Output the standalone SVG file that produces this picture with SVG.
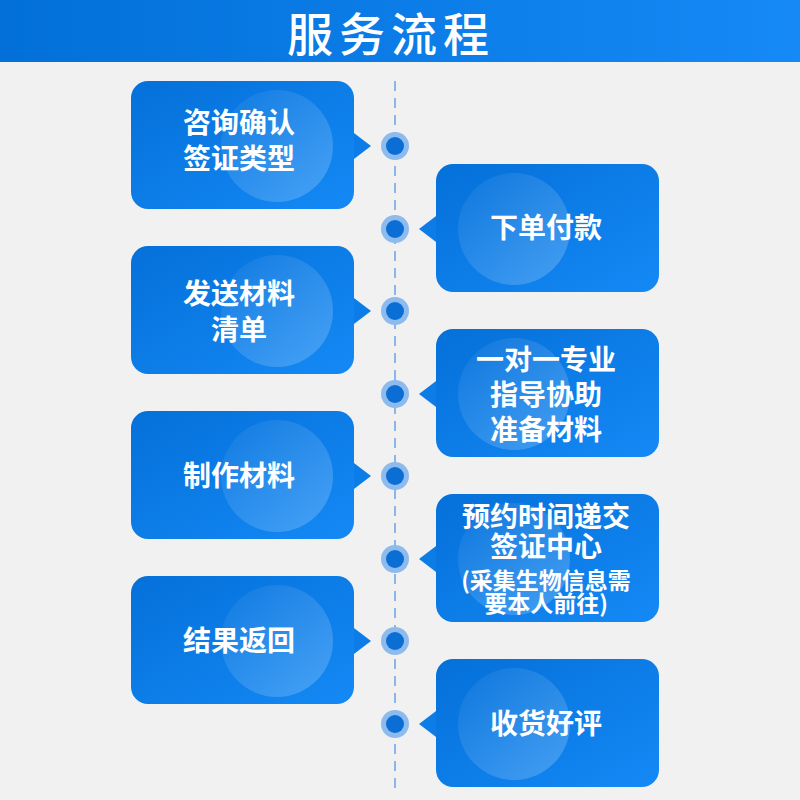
<svg xmlns="http://www.w3.org/2000/svg" width="800" height="800" viewBox="0 0 800 800">
<defs>
<linearGradient id="hdr" x1="0" y1="0" x2="1" y2="0">
<stop offset="0" stop-color="#0270d8"/>
<stop offset="1" stop-color="#1589f6"/>
</linearGradient>
<linearGradient id="box" x1="0" y1="0" x2="1" y2="1">
<stop offset="0" stop-color="#0570d9"/>
<stop offset="1" stop-color="#1489f5"/>
</linearGradient>
<linearGradient id="glow" x1="0" y1="0" x2="1" y2="1">
<stop offset="0" stop-color="#ffffff" stop-opacity="0.03"/>
<stop offset="1" stop-color="#ffffff" stop-opacity="0.22"/>
</linearGradient>
<style>
.bx{fill:url(#box)}
.ptr{fill:#0c7de6}
.gl{fill:url(#glow)}
.t{font-family:"Noto Sans CJK SC","Noto Sans",sans-serif;font-weight:bold;fill:#ffffff;text-anchor:middle;font-size:28px}
.s{font-size:23px}
.ring{fill:#8dbbee}
.core{fill:#0a6ed5}
</style>
</defs>
<rect width="800" height="800" fill="#f1f1f1"/>
<g id="header">
<rect x="0" y="0" width="800" height="62" fill="url(#hdr)"/>
<text x="391" y="51" font-family="Noto Sans CJK SC, sans-serif" font-weight="500" font-size="46" letter-spacing="6" fill="#ffffff" text-anchor="middle">服务流程</text>
</g>
<g id="connectors">
<line x1="395" y1="81" x2="395" y2="792" stroke="#8ab6ea" stroke-width="2" stroke-dasharray="10,7"/>
</g>
<g id="step1">
<polygon class="ptr" points="350,130 371,146 350,162"/>
<rect class="bx" x="131" y="81" width="223" height="128" rx="17"/>
<circle class="gl" cx="277" cy="146" r="56"/>
<text class="t" x="239" y="133">咨询确认</text>
<text class="t" x="239" y="169">签证类型</text>
<circle class="ring" cx="395" cy="146" r="14"/><circle class="core" cx="395" cy="146" r="9"/>
</g>
<g id="step2">
<polygon class="ptr" points="440,213 419,229 440,245"/>
<rect class="bx" x="436" y="164" width="223" height="128" rx="17"/>
<circle class="gl" cx="514" cy="229" r="56"/>
<text class="t" x="546" y="238">下单付款</text>
<circle class="ring" cx="395" cy="229" r="14"/><circle class="core" cx="395" cy="229" r="9"/>
</g>
<g id="step3">
<polygon class="ptr" points="350,295 371,311 350,327"/>
<rect class="bx" x="131" y="246" width="223" height="128" rx="17"/>
<circle class="gl" cx="277" cy="311" r="56"/>
<text class="t" x="239" y="304">发送材料</text>
<text class="t" x="239" y="340">清单</text>
<circle class="ring" cx="395" cy="311" r="14"/><circle class="core" cx="395" cy="311" r="9"/>
</g>
<g id="step4">
<polygon class="ptr" points="440,378 419,394 440,410"/>
<rect class="bx" x="436" y="329" width="223" height="128" rx="17"/>
<circle class="gl" cx="514" cy="394" r="56"/>
<text class="t" x="546" y="370">一对一专业</text>
<text class="t" x="546" y="405">指导协助</text>
<text class="t" x="546" y="440">准备材料</text>
<circle class="ring" cx="395" cy="394" r="14"/><circle class="core" cx="395" cy="394" r="9"/>
</g>
<g id="step5">
<polygon class="ptr" points="350,460 371,476 350,492"/>
<rect class="bx" x="131" y="411" width="223" height="128" rx="17"/>
<circle class="gl" cx="277" cy="476" r="56"/>
<text class="t" x="239" y="486">制作材料</text>
<circle class="ring" cx="395" cy="476" r="14"/><circle class="core" cx="395" cy="476" r="9"/>
</g>
<g id="step6">
<polygon class="ptr" points="440,543 419,559 440,575"/>
<rect class="bx" x="436" y="494" width="223" height="128" rx="17"/>
<circle class="gl" cx="514" cy="559" r="56"/>
<text class="t" x="546" y="527" font-size="29">预约时间递交</text>
<text class="t" x="546" y="557" font-size="29">签证中心</text>
<text class="t s" x="546" y="589">(采集生物信息需</text>
<text class="t s" x="546" y="612">要本人前往)</text>
<circle class="ring" cx="395" cy="559" r="14"/><circle class="core" cx="395" cy="559" r="9"/>
</g>
<g id="step7">
<polygon class="ptr" points="350,625 371,641 350,657"/>
<rect class="bx" x="131" y="576" width="223" height="128" rx="17"/>
<circle class="gl" cx="277" cy="641" r="56"/>
<text class="t" x="239" y="651">结果返回</text>
<circle class="ring" cx="395" cy="641" r="14"/><circle class="core" cx="395" cy="641" r="9"/>
</g>
<g id="step8">
<polygon class="ptr" points="440,708 419,724 440,740"/>
<rect class="bx" x="436" y="659" width="223" height="128" rx="17"/>
<circle class="gl" cx="514" cy="724" r="56"/>
<text class="t" x="546" y="734">收货好评</text>
<circle class="ring" cx="395" cy="724" r="14"/><circle class="core" cx="395" cy="724" r="9"/>
</g>
</svg>
